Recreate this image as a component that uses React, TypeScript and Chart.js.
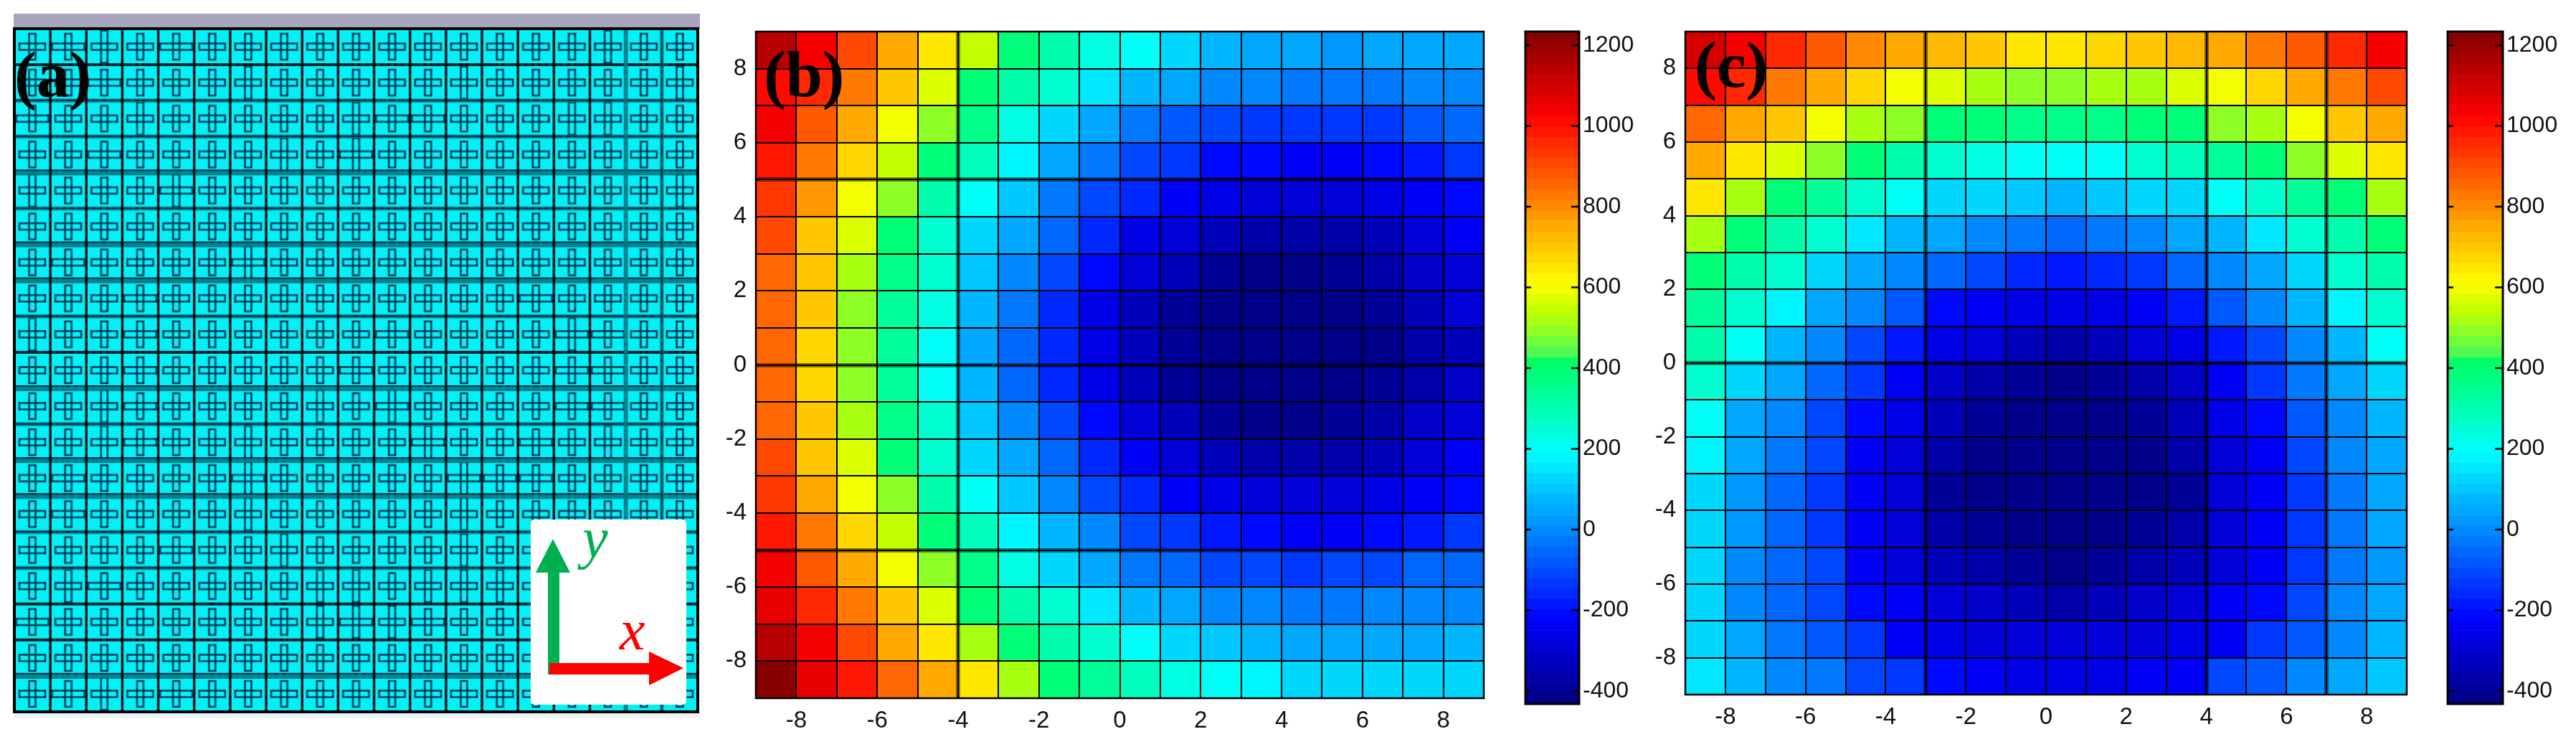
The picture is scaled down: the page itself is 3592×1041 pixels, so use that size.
import React, { useEffect, useRef } from "react";
import { Chart, registerables } from "chart.js";

Chart.register(...registerables);

const axisTicks = [-8, -6, -4, -2, 0, 2, 4, 6, 8];
const colorbarTicks = [-400, -200, 0, 200, 400, 600, 800, 1000, 1200];
const colorRange = [-432, 1234];
const axisRange = [-9, 9];
const cellEdges = [-8, -7, -6, -5, -4, -3, -2, -1, 0, 1, 2, 3, 4, 5, 6, 7, 8];
const unitCellCount = 19;
const bandCount = 64;

// rows listed top (y 8..9) to bottom (y -9..-8), columns x -9..9
const panelBValues = [
  [1130, 1026, 900, 765, 661, 540, 400, 320, 240, 193, 130, 85, 60, 40, 35, 45, 50, 55],
  [1020, 960, 818, 700, 560, 400, 320, 260, 150, 70, 37, 0, -15, -25, -40, -30, -15, -5],
  [1026, 870, 750, 609, 480, 360, 235, 130, 37, -40, -80, -105, -120, -135, -120, -120, -80, -67],
  [980, 818, 675, 540, 400, 280, 170, 50, -40, -105, -145, -200, -210, -224, -225, -215, -185, -145],
  [925, 770, 609, 480, 320, 193, 89, -25, -95, -170, -224, -250, -276, -290, -276, -265, -230, -200],
  [900, 713, 560, 400, 270, 130, 37, -67, -170, -250, -300, -345, -355, -365, -355, -330, -276, -235],
  [860, 700, 525, 360, 250, 100, -15, -105, -210, -300, -345, -395, -406, -406, -395, -365, -315, -276],
  [850, 690, 505, 340, 220, 75, -40, -160, -250, -330, -380, -410, -420, -420, -410, -385, -345, -300],
  [850, 675, 500, 340, 193, 60, -67, -170, -250, -345, -395, -420, -432, -432, -432, -406, -370, -330],
  [850, 675, 505, 340, 210, 65, -55, -170, -250, -340, -385, -420, -425, -425, -415, -395, -355, -315],
  [860, 700, 530, 360, 250, 100, -15, -105, -210, -300, -345, -395, -406, -406, -395, -365, -315, -276],
  [900, 713, 560, 400, 270, 130, 37, -67, -170, -224, -300, -345, -355, -365, -355, -330, -276, -235],
  [925, 765, 609, 480, 320, 193, 89, -15, -95, -160, -224, -250, -276, -290, -276, -265, -230, -200],
  [974, 818, 675, 540, 400, 280, 170, 65, -15, -95, -145, -185, -210, -224, -225, -215, -185, -145],
  [1026, 870, 750, 609, 480, 360, 235, 130, 50, -25, -67, -95, -105, -120, -105, -95, -67, -55],
  [1075, 950, 818, 700, 560, 400, 320, 260, 150, 75, 37, 10, 0, -25, -25, -15, -15, 10],
  [1130, 1026, 900, 765, 650, 530, 400, 320, 250, 193, 140, 89, 75, 50, 37, 37, 50, 65],
  [1234, 1075, 974, 845, 740, 650, 530, 400, 340, 280, 235, 193, 170, 140, 140, 140, 140, 130],
];

const panelCValues = [
  [1090, 1026, 960, 870, 805, 765, 725, 690, 661, 655, 675, 700, 725, 765, 818, 870, 950, 1026],
  [1000, 970, 818, 740, 675, 609, 560, 530, 505, 500, 515, 530, 560, 609, 675, 740, 818, 900],
  [860, 765, 700, 609, 530, 480, 400, 380, 360, 350, 360, 380, 400, 480, 530, 609, 700, 765],
  [740, 650, 560, 480, 400, 320, 260, 225, 200, 193, 205, 245, 280, 340, 400, 480, 560, 650],
  [650, 530, 400, 340, 260, 193, 130, 115, 89, 65, 89, 115, 130, 193, 260, 340, 400, 530],
  [530, 400, 320, 245, 150, 75, 37, 0, -25, -55, -25, 0, 37, 75, 150, 245, 320, 400],
  [400, 320, 250, 140, 37, -15, -67, -105, -170, -185, -170, -120, -67, 0, 50, 140, 250, 320],
  [340, 260, 170, 50, -15, -80, -200, -224, -250, -265, -250, -224, -185, -80, -15, 65, 170, 260],
  [305, 193, 75, -15, -95, -185, -250, -300, -345, -355, -345, -300, -250, -185, -95, -15, 75, 193],
  [260, 115, 37, -67, -145, -224, -315, -355, -395, -406, -395, -355, -315, -224, -145, -40, 37, 115],
  [193, 50, -15, -95, -200, -250, -345, -395, -420, -432, -420, -395, -345, -250, -200, -80, 0, 75],
  [185, 37, -40, -105, -224, -290, -365, -406, -428, -432, -428, -406, -365, -290, -224, -105, -15, 37],
  [140, 25, -55, -135, -224, -300, -380, -410, -430, -432, -430, -410, -380, -300, -224, -145, -40, 37],
  [140, 25, -55, -120, -224, -290, -365, -395, -420, -430, -420, -395, -365, -290, -224, -135, -25, 37],
  [130, 0, -55, -105, -224, -276, -345, -370, -395, -410, -395, -370, -345, -276, -224, -120, -25, 25],
  [130, 10, -55, -105, -210, -224, -290, -315, -345, -355, -345, -315, -290, -224, -200, -95, -15, 37],
  [140, 37, -25, -80, -145, -224, -250, -276, -290, -300, -290, -276, -250, -224, -145, -80, 0, 65],
  [150, 75, 10, -40, -105, -120, -200, -224, -250, -250, -250, -224, -224, -95, -70, -15, 37, 89],
];

const panelBHeavyX = [-4];
const panelBHeavyY = [5, 0, -5];
const panelCHeavyX = [-3, 4, 7];
const panelCHeavyY = [0];

// [row, column], counted from the top left, of the unit cells whose arm runs long
const longHorizontalArms = [
  [1, 2], [1, 5], [2, 3], [3, 1], [3, 11], [3, 12], [4, 3], [4, 10], [5, 5], [7, 2], [7, 7], [8, 4], [8, 15],
  [9, 4], [9, 11], [9, 16], [9, 17], [10, 4], [10, 10], [10, 16], [10, 17], [11, 4], [11, 11], [11, 16], [11, 17],
  [12, 4], [12, 12], [12, 15], [13, 2], [13, 7], [13, 13], [13, 14], [13, 15], [14, 2], [15, 5], [16, 3], [17, 1],
  [17, 10], [17, 12], [19, 2], [19, 5],
];
const longVerticalArms = [
  [1, 3], [1, 17], [2, 7], [2, 13], [2, 19], [3, 4], [3, 10], [3, 16], [3, 17], [4, 8], [4, 10], [5, 1], [5, 5],
  [5, 19], [7, 7], [9, 1], [9, 16], [11, 3], [11, 9], [11, 11], [12, 3], [12, 7], [12, 12], [12, 17], [13, 7],
  [13, 13], [14, 7], [14, 13], [15, 8], [15, 13], [16, 2], [16, 9], [16, 10], [16, 12], [16, 13], [16, 14], [17, 9],
  [17, 10], [17, 11], [17, 16], [19, 3],
];
// look of the lines between unit cells: D dark, M dark with a teal halo, T broad teal
const rowEdgeStyles = ["D", "M", "M", "T", "M", "T", "T", "M", "D", "T", "M", "T", "T", "M", "M", "D", "D", "T"];
const columnEdgeStyles = ["D", "D", "D", "D", "D", "D", "D", "D", "D", "D", "D", "D", "D", "D", "D", "D", "T", "M"];

const colorStops: [number, number, number, number][] = [
  [-432, 0, 0, 128],
  [-224, 0, 0, 255],
  [-15, 0, 128, 255],
  [193, 0, 255, 255],
  [280, 0, 255, 192],
  [423, 0, 255, 96],
  [440, 80, 248, 80],
  [480, 128, 255, 48],
  [540, 192, 255, 0],
  [609, 255, 255, 0],
  [818, 255, 128, 0],
  [1026, 255, 0, 0],
  [1234, 128, 0, 0],
];

const FONT = "'Liberation Sans', sans-serif";
const SERIF = "'Liberation Serif', serif";

function colourFor(value: number): string {
  const [lo, hi] = colorRange;
  const step = (hi - lo) / bandCount;
  const idx = Math.max(0, Math.min(bandCount - 1, Math.floor((value - lo) / step)));
  const v = lo + (idx + 0.5) * step;
  for (let i = 1; i < colorStops.length; i++) {
    const a = colorStops[i - 1];
    const b = colorStops[i];
    if (v <= b[0]) {
      const t = (v - a[0]) / (b[0] - a[0]);
      const c = [1, 2, 3].map((k) => Math.round(a[k] + (b[k] - a[k]) * Math.max(0, t)));
      return `rgb(${c[0]},${c[1]},${c[2]})`;
    }
  }
  return "rgb(128,0,0)";
}

const setTicks = (values: number[]) => (scale: any) => {
  scale.ticks = values.map((value) => ({ value }));
};

const fixSize = (axis: "x" | "y", size: number) => (s: any) => {
  if (axis === "x") {
    s.height = size;
    s.paddingLeft = 0;
    s.paddingRight = 0;
  } else {
    s.width = size;
    s.paddingTop = 0;
    s.paddingBottom = 0;
  }
};

const plainLabel = (value: any) => String(value);

const framePlugin = (lineWidth: number) => ({
  id: "frame",
  afterDatasetsDraw(chart: any) {
    const { ctx, chartArea: a } = chart;
    ctx.save();
    ctx.strokeStyle = "#000";
    ctx.lineWidth = lineWidth;
    ctx.strokeRect(a.left, a.top, a.right - a.left, a.bottom - a.top);
    ctx.restore();
  },
});

const heatGridPlugin = (heavyX: number[], heavyY: number[]) => ({
  id: "heatGrid",
  afterDatasetsDraw(chart: any) {
    const { ctx, chartArea: a, scales } = chart;
    ctx.save();
    ctx.fillStyle = "rgba(0,0,0,0.45)";
    for (const v of heavyX) ctx.fillRect(Math.round(scales.x.getPixelForValue(v)) - 3, a.top, 6, a.bottom - a.top);
    for (const v of heavyY) ctx.fillRect(a.left, Math.round(scales.y.getPixelForValue(v)) - 3, a.right - a.left, 6);
    ctx.fillStyle = "#000";
    for (const v of cellEdges) {
      ctx.fillRect(Math.round(scales.x.getPixelForValue(v)) - 1, a.top, 2, a.bottom - a.top);
      ctx.fillRect(a.left, Math.round(scales.y.getPixelForValue(v)) - 1, a.right - a.left, 2);
    }
    ctx.restore();
  },
});

const unitGridPlugin = {
  id: "unitGrid",
  afterDatasetsDraw(chart: any) {
    const { ctx, chartArea: a, scales } = chart;
    const w = a.right - a.left;
    const h = a.bottom - a.top;
    ctx.save();
    rowEdgeStyles.forEach((style, i) => {
      const y = scales.y.getPixelForValue(unitCellCount - 1 - i);
      if (style === "T") {
        ctx.fillStyle = "rgba(0,120,135,0.9)";
        ctx.fillRect(a.left, y - 4, w, 8);
        ctx.fillStyle = "#04303f";
        ctx.fillRect(a.left, y - 4, w, 2);
      } else if (style === "M") {
        ctx.fillStyle = "rgba(0,120,135,0.7)";
        ctx.fillRect(a.left, y - 3, w, 6);
        ctx.fillStyle = "#04303f";
        ctx.fillRect(a.left, y - 1.5, w, 2.5);
      } else {
        ctx.fillStyle = "#021c28";
        ctx.fillRect(a.left, y - 2, w, 4);
      }
    });
    columnEdgeStyles.forEach((style, i) => {
      const x = scales.x.getPixelForValue(i + 1);
      if (style === "T") {
        ctx.fillStyle = "rgba(0,120,135,0.9)";
        ctx.fillRect(x - 3, a.top, 6, h);
      } else if (style === "M") {
        ctx.fillStyle = "rgba(0,120,135,0.7)";
        ctx.fillRect(x - 3, a.top, 6, h);
        ctx.fillStyle = "#04303f";
        ctx.fillRect(x - 1, a.top, 2, h);
      } else {
        ctx.fillStyle = "#01141e";
        ctx.fillRect(x - 1.75, a.top, 3.5, h);
      }
    });
    ctx.restore();
  },
};

const innerTicksPlugin = {
  id: "innerTicks",
  afterDatasetsDraw(chart: any) {
    const { ctx, chartArea: a, scales } = chart;
    ctx.save();
    ctx.strokeStyle = "#000";
    ctx.lineWidth = 2.5;
    for (const tick of colorbarTicks) {
      const y = scales.y.getPixelForValue(tick);
      ctx.beginPath();
      ctx.moveTo(a.left, y);
      ctx.lineTo(a.left + 8, y);
      ctx.moveTo(a.right - 11, y);
      ctx.lineTo(a.right, y);
      ctx.stroke();
    }
    ctx.restore();
  },
};

function heatmapConfig(
  values: number[][],
  heavyX: number[],
  heavyY: number[],
  axisW: number,
  axisH: number,
  pad: { top: number; right: number }
) {
  const cells: any[] = [];
  const colours: string[] = [];
  values.forEach((row, r) =>
    row.forEach((v, c) => {
      const top = axisRange[1] - r;
      cells.push({ x: axisRange[0] + c + 0.5, y: [top - 1, top] });
      colours.push(colourFor(v));
    })
  );
  const tickFont = { family: FONT, size: 33 };
  return {
    type: "bar",
    data: {
      datasets: [
        {
          data: cells,
          backgroundColor: colours,
          borderWidth: 0,
          barPercentage: 1,
          categoryPercentage: 1,
          clip: false,
        },
      ],
    },
    options: {
      responsive: false,
      animation: false,
      devicePixelRatio: 1,
      layout: { autoPadding: false, padding: { top: pad.top, right: pad.right, left: 0, bottom: 0 } },
      plugins: { legend: { display: false }, tooltip: { enabled: false } },
      scales: {
        x: {
          type: "linear",
          offset: false,
          min: axisRange[0],
          max: axisRange[1],
          grid: { display: false, drawTicks: false, offset: false },
          border: { display: false },
          afterBuildTicks: setTicks(axisTicks),
          afterFit: fixSize("x", axisH),
          ticks: { font: tickFont, color: "#111", padding: 12, maxRotation: 0, autoSkip: false, callback: plainLabel },
        },
        y: {
          type: "linear",
          min: axisRange[0],
          max: axisRange[1],
          grid: { display: false, drawTicks: false },
          border: { display: false },
          afterBuildTicks: setTicks(axisTicks),
          afterFit: fixSize("y", axisW),
          ticks: { font: tickFont, color: "#111", padding: 13, autoSkip: false, callback: plainLabel },
        },
      },
    },
    plugins: [heatGridPlugin(heavyX, heavyY), framePlugin(2.5)],
  };
}

function colorbarConfig(barW: number, axisW: number, pad: number) {
  const [lo, hi] = colorRange;
  const step = (hi - lo) / bandCount;
  const bands: any[] = [];
  const colours: string[] = [];
  for (let i = 0; i < bandCount; i++) {
    bands.push({ x: 0.5, y: [lo + i * step, lo + (i + 1) * step] });
    colours.push(colourFor(lo + (i + 0.5) * step));
  }
  return {
    type: "bar",
    data: {
      datasets: [
        {
          data: bands,
          backgroundColor: colours,
          borderWidth: 0,
          barThickness: barW,
        },
      ],
    },
    options: {
      responsive: false,
      animation: false,
      devicePixelRatio: 1,
      layout: { autoPadding: false, padding: { top: pad, left: pad, right: 0, bottom: pad } },
      plugins: { legend: { display: false }, tooltip: { enabled: false } },
      scales: {
        x: { type: "linear", offset: false, min: 0, max: 1, display: false, grid: { offset: false } },
        y: {
          type: "linear",
          position: "right",
          min: lo,
          max: hi,
          grid: { display: false, drawTicks: false },
          border: { display: false },
          afterBuildTicks: setTicks(colorbarTicks),
          afterFit: fixSize("y", axisW),
          ticks: {
            font: { family: FONT, size: 32 },
            color: "#111",
            padding: 5,
            crossAlign: "near",
            autoSkip: false,
            callback: plainLabel,
          },
        },
      },
    },
    plugins: [framePlugin(3), innerTicksPlugin],
  };
}

function crossSprite(hLen: number, vLen: number): HTMLCanvasElement {
  const c = document.createElement("canvas");
  c.width = 50;
  c.height = 50;
  const g = c.getContext("2d")!;
  g.strokeStyle = "#063c5c";
  g.lineWidth = 2.6;
  g.strokeRect(25 - hLen / 2, 20.5, hLen, 9);
  g.strokeRect(20.5, 25 - vLen / 2, 9, vLen);
  return c;
}

function structureConfig() {
  const sprites: Record<string, HTMLCanvasElement> = {};
  const spriteFor = (h: number, v: number) => (sprites[`${h}/${v}`] ||= crossSprite(h, v));
  const has = (list: number[][], r: number, c: number) => list.some(([a, b]) => a === r && b === c);
  const cells: any[] = [];
  const centres: any[] = [];
  const styles: HTMLCanvasElement[] = [];
  for (let r = 1; r <= unitCellCount; r++) {
    for (let c = 1; c <= unitCellCount; c++) {
      const row = unitCellCount - r;
      cells.push({ x: c - 0.5, y: [row, row + 1] });
      centres.push({ x: c - 0.5, y: row + 0.5 });
      styles.push(spriteFor(has(longHorizontalArms, r, c) ? 45 : 36, has(longVerticalArms, r, c) ? 45 : 36));
    }
  }
  return {
    type: "bar",
    data: {
      datasets: [
        {
          type: "scatter",
          data: centres,
          pointStyle: styles,
          pointRadius: 20,
          showLine: false,
          order: 0,
          clip: false,
        },
        {
          data: cells,
          backgroundColor: "#00F2F6",
          borderWidth: 0,
          barPercentage: 1,
          categoryPercentage: 1,
          order: 1,
          clip: false,
        },
      ],
    },
    options: {
      responsive: false,
      animation: false,
      devicePixelRatio: 1,
      layout: { autoPadding: false, padding: 3 },
      plugins: { legend: { display: false }, tooltip: { enabled: false } },
      scales: {
        x: { type: "linear", offset: false, min: 0, max: unitCellCount, display: false, grid: { offset: false } },
        y: { type: "linear", min: 0, max: unitCellCount, display: false },
      },
    },
    plugins: [unitGridPlugin, framePlugin(4)],
  };
}

const chartBoxes = [
  { key: "a", left: 17, top: 37, width: 959, height: 958 },
  { key: "b", left: 964, top: 40, width: 1111, height: 1001 },
  { key: "cb1", left: 2125, top: 42, width: 167, height: 941 },
  { key: "c", left: 2260, top: 40, width: 1102, height: 1001 },
  { key: "cb2", left: 3411, top: 42, width: 169, height: 941 },
];

export default function App() {
  const refs = useRef<Record<string, HTMLCanvasElement | null>>({});
  useEffect(() => {
    const configs: Record<string, any> = {
      a: structureConfig(),
      b: heatmapConfig(panelBValues, panelBHeavyX, panelBHeavyY, 90, 68, { top: 4, right: 6 }),
      cb1: colorbarConfig(75, 90, 2),
      c: heatmapConfig(panelCValues, panelCHeavyX, panelCHeavyY, 90, 73, { top: 4, right: 6 }),
      cb2: colorbarConfig(77, 90, 2),
    };
    const charts = chartBoxes.map((b) => new Chart(refs.current[b.key] as any, configs[b.key]));
    return () => charts.forEach((c) => c.destroy());
  }, []);

  const label = (left: number, top: number): React.CSSProperties => ({
    position: "absolute",
    left,
    top,
    font: `bold 92px/1 ${SERIF}`,
    color: "#000",
  });

  return (
    <div style={{ position: "absolute", left: 0, top: 0, width: 3592, height: 1041, overflow: "hidden", background: "#fff" }}>
      <div style={{ position: "absolute", left: 19, top: 19, width: 957, height: 21, background: "#A9A4BE" }} />
      <div style={{ position: "absolute", left: 19, top: 994, width: 957, height: 7, background: "#EEF2F6" }} />
      {chartBoxes.map((b) => (
        <canvas
          key={b.key}
          ref={(el) => {
            refs.current[b.key] = el;
          }}
          width={b.width}
          height={b.height}
          style={{ position: "absolute", left: b.left, top: b.top, width: b.width, height: b.height, display: "block" }}
        />
      ))}
      <div style={{ position: "absolute", left: 740, top: 724, width: 217, height: 258, background: "#fff", borderRadius: 5 }} />
      <svg style={{ position: "absolute", left: 740, top: 724 }} width={217} height={258}>
        <polygon points="24,216 40,216 40,74 55,74 31,27 7,74 24,74" fill="#00B050" />
        <polygon points="26,200 165,200 165,184 213,207 165,231 165,216 26,216" fill="#FF0000" />
      </svg>
      <div style={{ position: "absolute", left: 864, top: 838, font: `italic 80px/1 ${SERIF}`, color: "#FF0000" }}>x</div>
      <div style={{ position: "absolute", left: 812, top: 710, font: `italic 80px/1 ${SERIF}`, color: "#00B050" }}>y</div>
      <div style={label(20, 58)}>(a)</div>
      <div style={label(1065, 57)}>(b)</div>
      <div style={label(2363, 44)}>(c)</div>
    </div>
  );
}
